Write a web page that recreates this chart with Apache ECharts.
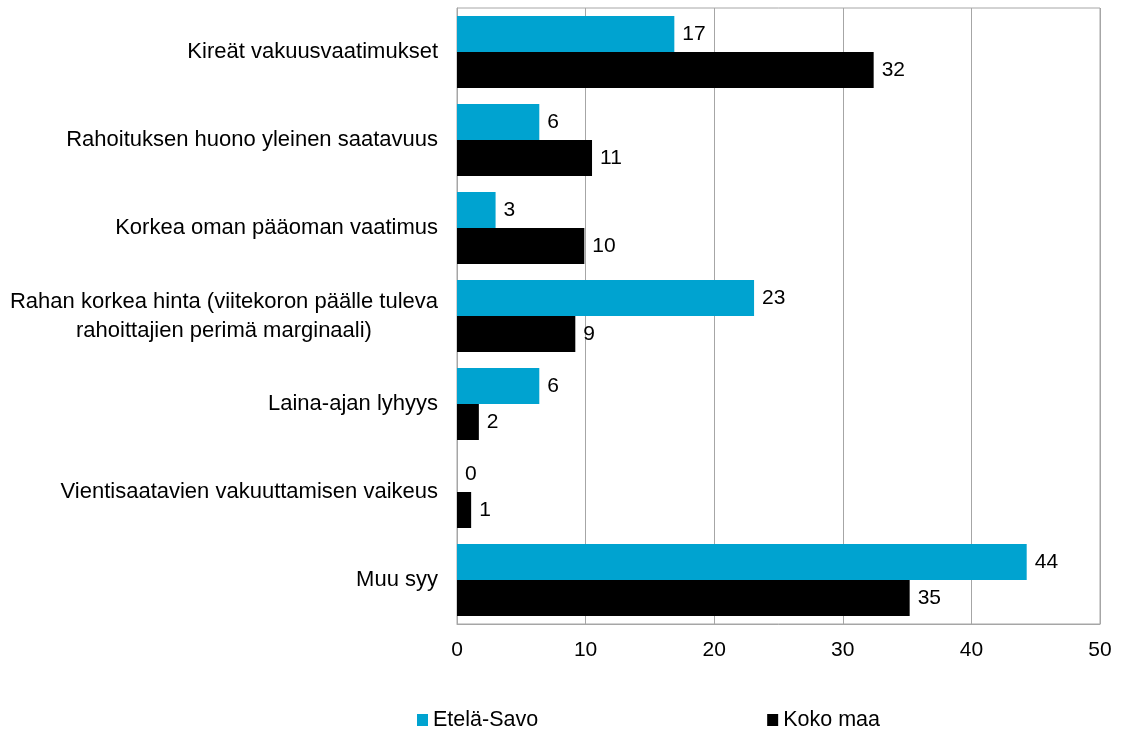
<!DOCTYPE html>
<html>
<head>
<meta charset="utf-8">
<script src="https://cdn.jsdelivr.net/npm/echarts@6/dist/echarts.min.js"></script>
<style>
  html, body { margin: 0; padding: 0; background: #fff; }
  #chart { width: 1128px; height: 731px; }
</style>
</head>
<body>
<div id="chart"></div>
<script>
// kategoriat ylhäältä alas
var categories = [
  "Kireät vakuusvaatimukset",
  "Rahoituksen huono yleinen saatavuus",
  "Korkea oman pääoman vaatimus",
  "Rahan korkea hinta (viitekoron päälle tuleva\nrahoittajien perimä marginaali)",
  "Laina-ajan lyhyys",
  "Vientisaatavien vakuuttamisen vaikeus",
  "Muu syy"
];
var seriesNames = ["Etelä-Savo", "Koko maa"];
var etelaSavo = [16.9, 6.4, 3.0, 23.1, 6.4, 0, 44.3];
var kokoMaa = [32.4, 10.5, 9.9, 9.2, 1.7, 1.1, 35.2];
var xTicks = [0, 10, 20, 30, 40, 50];

var chart = echarts.init(document.getElementById("chart"));

var font = "Liberation Sans, Arial, sans-serif";
var fs = 21;
var catFs = 22;

var option = {
  animation: false,
  textStyle: { fontFamily: font },
  grid: {
    left: 457,
    right: 28,
    top: 8,
    bottom: 107,
    show: true,
    borderColor: "#a6a6a6",
    borderWidth: 1
  },
  legend: {
    top: 704,
    left: 412,
    itemGap: 229,
    itemWidth: 11,
    itemHeight: 12,
    icon: "rect",
    textStyle: { fontSize: 21.5, color: "#000" },
    data: seriesNames
  },
  xAxis: {
    type: "value",
    min: xTicks[0],
    max: xTicks[xTicks.length - 1],
    interval: 10,
    axisLine: { show: true, lineStyle: { color: "#a6a6a6" } },
    axisTick: { show: false },
    axisLabel: { fontSize: fs, color: "#000", margin: 16 },
    splitLine: { show: true, lineStyle: { color: "#a6a6a6" } }
  },
  yAxis: {
    type: "category",
    inverse: true,
    data: categories,
    axisLine: { show: true, lineStyle: { color: "#a6a6a6" } },
    axisTick: { show: false },
    axisLabel: {
      fontSize: catFs,
      color: "#000",
      margin: 19,
      lineHeight: 29,
      formatter: function (v) {
        // monirivinen otsikko keskitetään riveittäin
        if (v.indexOf("\n") >= 0) {
          return v.split("\n").map(function (s) { return "{c|" + s + "}"; }).join("\n");
        }
        return v;
      },
      rich: {
        c: { align: "center", fontSize: catFs, color: "#000", lineHeight: 29 }
      }
    }
  },
  series: [
    {
      name: seriesNames[0],
      type: "bar",
      data: etelaSavo,
      barWidth: 36,
      barGap: "0%",
      itemStyle: { color: "#00a3d0" },
      label: {
        show: true,
        position: "right",
        distance: 8,
        fontSize: fs,
        color: "#000",
        formatter: function (p) { return Math.round(p.value); }
      }
    },
    {
      name: seriesNames[1],
      type: "bar",
      data: kokoMaa,
      barWidth: 36,
      barGap: "0%",
      itemStyle: { color: "#000" },
      label: {
        show: true,
        position: "right",
        distance: 8,
        fontSize: fs,
        color: "#000",
        formatter: function (p) { return Math.round(p.value); }
      }
    }
  ]
};

chart.setOption(option);
</script>
</body>
</html>
